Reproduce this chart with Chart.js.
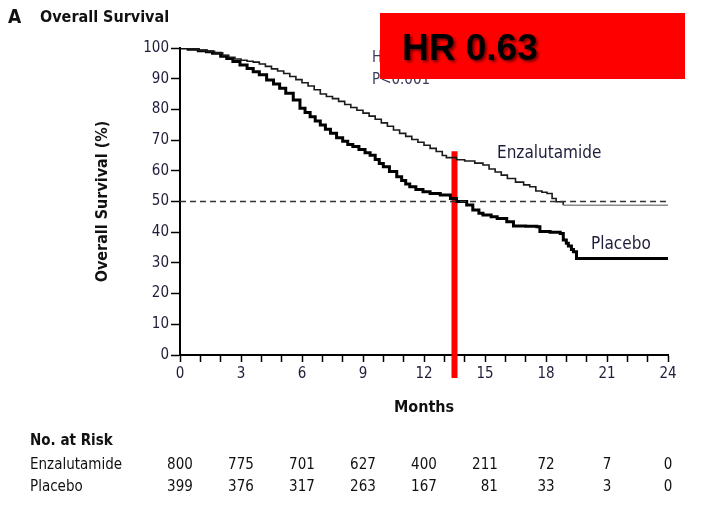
<!DOCTYPE html>
<html lang="en">
<head>
  <meta charset="UTF-8" />
  <title>Overall Survival</title>
  <script src="https://cdn.jsdelivr.net/npm/chart.js"></script>
  <style>
    html, body { margin: 0; padding: 0; background: #ffffff; }
    canvas { display: block; }
  </style>
</head>
<body>
  <canvas id="osChart" width="702" height="516"></canvas>
  <script>
    // Kaplan-Meier estimates, months vs. % surviving
    const enzaMonths = [0, 0.4, 0.9, 1.3, 1.7, 2.1, 2.4, 2.7, 3.0, 3.3, 3.6, 3.9, 4.2, 4.5, 4.8, 5.1, 5.4, 5.7, 6.0, 6.3, 6.6, 6.9, 7.2, 7.5, 7.8, 8.1, 8.4, 8.7, 9.0, 9.3, 9.6, 9.9, 10.2, 10.5, 10.8, 11.1, 11.4, 11.7, 12.0, 12.3, 12.6, 12.9, 13.1, 13.6, 14.0, 14.5, 14.9, 15.2, 15.5, 15.8, 16.1, 16.5, 16.9, 17.2, 17.5, 17.8, 18.05, 18.3, 18.5, 18.85, 24];
    const enzaSurvival = [100, 99.7, 99.2, 98.9, 98.4, 97.6, 97.0, 96.4, 96.0, 95.7, 95.4, 94.8, 94.0, 93.2, 92.5, 91.7, 90.7, 89.7, 88.7, 87.6, 86.4, 85.0, 84.2, 83.5, 82.6, 81.6, 80.6, 79.7, 78.8, 77.8, 76.8, 75.6, 74.5, 73.3, 72.2, 71.2, 70.2, 69.3, 68.3, 67.3, 66.3, 65.0, 64.3, 63.6, 63.2, 62.5, 61.9, 60.6, 59.6, 58.6, 57.5, 56.3, 55.4, 54.8, 53.4, 53.0, 52.6, 51.0, 49.9, 48.8, 48.8];

    const placeboMonths = [0, 0.4, 0.9, 1.3, 1.6, 2.0, 2.3, 2.6, 2.95, 3.3, 3.6, 3.9, 4.26, 4.6, 4.9, 5.2, 5.57, 5.9, 6.15, 6.4, 6.65, 6.9, 7.15, 7.4, 7.7, 8.0, 8.25, 8.5, 8.8, 9.1, 9.35, 9.6, 9.8, 10.0, 10.3, 10.66, 10.9, 11.1, 11.3, 11.6, 11.95, 12.3, 12.8, 13.3, 13.6, 14.1, 14.4, 14.7, 14.9, 15.3, 15.6, 16.07, 16.4, 17.0, 17.55, 17.7, 18.2, 18.7, 18.85, 19.0, 19.1, 19.25, 19.35, 19.5, 24];
    const placeboSurvival = [100, 99.6, 99.1, 98.8, 98.3, 97.3, 96.6, 95.6, 94.5, 93.3, 92.3, 91.3, 89.6, 88.3, 86.9, 85.3, 83.1, 80.4, 79.0, 77.6, 76.2, 74.9, 73.5, 72.2, 70.8, 69.6, 68.6, 67.9, 66.9, 65.9, 65.1, 63.7, 62.4, 61.3, 59.8, 58.1, 56.8, 55.7, 54.8, 53.9, 53.2, 52.6, 52.1, 51.0, 50.0, 48.9, 47.2, 46.2, 45.6, 45.0, 44.5, 43.4, 42.0, 41.9, 41.8, 40.2, 40.0, 39.6, 37.5, 36.4, 35.5, 34.4, 33.6, 31.4, 31.4];

    // number at risk, one entry per labelled month
    const riskMonths = [0, 3, 6, 9, 12, 15, 18, 21, 24];
    const enzaAtRisk = [800, 775, 701, 627, 400, 211, 72, 7, 0];
    const placeboAtRisk = [399, 376, 317, 263, 167, 81, 33, 3, 0];

    const medianLevel = 50;
    const markerMonth = 13.5;
    const markerSpan = [-7.5, 66.4];

    const FONT = "'Liberation Sans Narrow', 'DejaVu Sans Condensed', 'Open Sans', sans-serif";
    const INK = '#1e1e3a';

    const zip = (xs, ys) => xs.map((x, i) => ({ x: x, y: ys[i] }));

    const overlay = {
      id: 'overlay',
      afterDatasetsDraw(chart) {
        const c = chart.ctx;
        const xs = chart.scales.x;
        c.save();
        c.textBaseline = 'middle';
        c.fillStyle = '#111';
        c.font = "bold 19px " + FONT;
        c.fillText('A', 8, 18);
        c.font = "bold 16px " + FONT;
        c.fillText('Overall Survival', 40, 18);

        // curve labels
        c.fillStyle = INK;
        c.font = "17px " + FONT;
        c.fillText('Enzalutamide', 497, 154);
        c.fillText('Placebo', 591, 245);

        // statistics text under the highlight box
        c.font = "15px " + FONT;
        c.fillStyle = '#3a3a5a';
        c.fillText('Hazard ratio, 0.63 (95% CI, 0.53\u20130.75)', 372, 58);
        c.fillText('P<0.001', 372, 80);

        // at-risk table
        c.fillStyle = '#111';
        c.font = "bold 15px " + FONT;
        c.fillText('No. at Risk', 30, 441);
        c.font = "15px " + FONT;
        c.fillText('Enzalutamide', 30, 465);
        c.fillText('Placebo', 30, 487);
        c.textAlign = 'right';
        riskMonths.forEach((m, i) => {
          const a = String(enzaAtRisk[i]);
          const b = String(placeboAtRisk[i]);
          const w = Math.max(c.measureText(a).width, c.measureText(b).width);
          const right = xs.getPixelForValue(m) + w / 2;
          c.fillText(a, right, 465);
          c.fillText(b, right, 487);
        });

        // highlight box
        c.textAlign = 'left';
        c.fillStyle = '#ff0000';
        c.fillRect(380, 13, 305, 66);
        c.shadowColor = 'rgba(0,0,0,0.55)';
        c.shadowOffsetX = 2;
        c.shadowOffsetY = 2;
        c.shadowBlur = 3;
        c.fillStyle = '#000';
        c.font = "bold 37px 'Liberation Sans', Arial, sans-serif";
        c.textBaseline = 'alphabetic';
        c.fillText('HR 0.63', 402, 60);
        c.restore();
      }
    };

    new Chart(document.getElementById('osChart'), {
      type: 'line',
      data: {
        datasets: [
          {
            label: 'Median',
            data: [{ x: 0, y: medianLevel }, { x: 24, y: medianLevel }],
            borderColor: '#333',
            borderWidth: 1.5,
            borderDash: [6, 4],
            pointRadius: 0
          },
          {
            label: 'Enzalutamide',
            data: zip(enzaMonths, enzaSurvival),
            stepped: true,
            borderColor: '#1a1a1a',
            borderWidth: 1.6,
            pointRadius: 0,
            segment: {
              borderColor: ctx => ctx.p0.parsed.x >= 18.8 ? '#8a8a8a' : '#1a1a1a'
            }
          },
          {
            label: 'Placebo',
            data: zip(placeboMonths, placeboSurvival),
            stepped: true,
            borderColor: '#000',
            borderWidth: 3,
            pointRadius: 0
          },
          {
            label: 'Marker',
            data: [{ x: markerMonth, y: markerSpan[0] }, { x: markerMonth, y: markerSpan[1] }],
            borderColor: '#ff0000',
            borderWidth: 6,
            borderCapStyle: 'butt',
            pointRadius: 0,
            clip: false
          }
        ]
      },
      options: {
        responsive: false,
        animation: false,
        devicePixelRatio: 1,
        layout: { padding: { top: 48, right: 34, left: 0, bottom: 0 } },
        plugins: {
          legend: { display: false },
          tooltip: { enabled: false }
        },
        scales: {
          x: {
            type: 'linear',
            min: 0,
            max: 24,
            afterFit: s => { s.height = 161; },
            ticks: {
              stepSize: 1,
              autoSkip: false,
              maxRotation: 0,
              padding: 3,
              color: INK,
              font: { family: FONT, size: 15 },
              callback: v => (v % 3 === 0 ? v : '')
            },
            grid: { drawOnChartArea: false, tickLength: 7, color: '#000', tickWidth: 1.5 },
            border: { color: '#000', width: 2 },
            title: {
              display: true,
              text: 'Months',
              color: '#111',
              font: { family: FONT, size: 16, weight: 'bold' },
              padding: { top: 0, bottom: 99 }
            }
          },
          y: {
            min: 0,
            max: 100,
            afterFit: s => { s.width = 180; },
            ticks: {
              stepSize: 10,
              padding: 2,
              color: INK,
              font: { family: FONT, size: 15 }
            },
            grid: { drawOnChartArea: false, tickLength: 9, color: '#000', tickWidth: 1.5 },
            border: { color: '#000', width: 2 },
            title: {
              display: true,
              text: 'Overall Survival (%)',
              color: '#111',
              font: { family: FONT, size: 16, weight: 'bold' },
              padding: { top: 93, bottom: 0 }
            }
          }
        }
      },
      plugins: [overlay]
    });
  </script>
</body>
</html>
